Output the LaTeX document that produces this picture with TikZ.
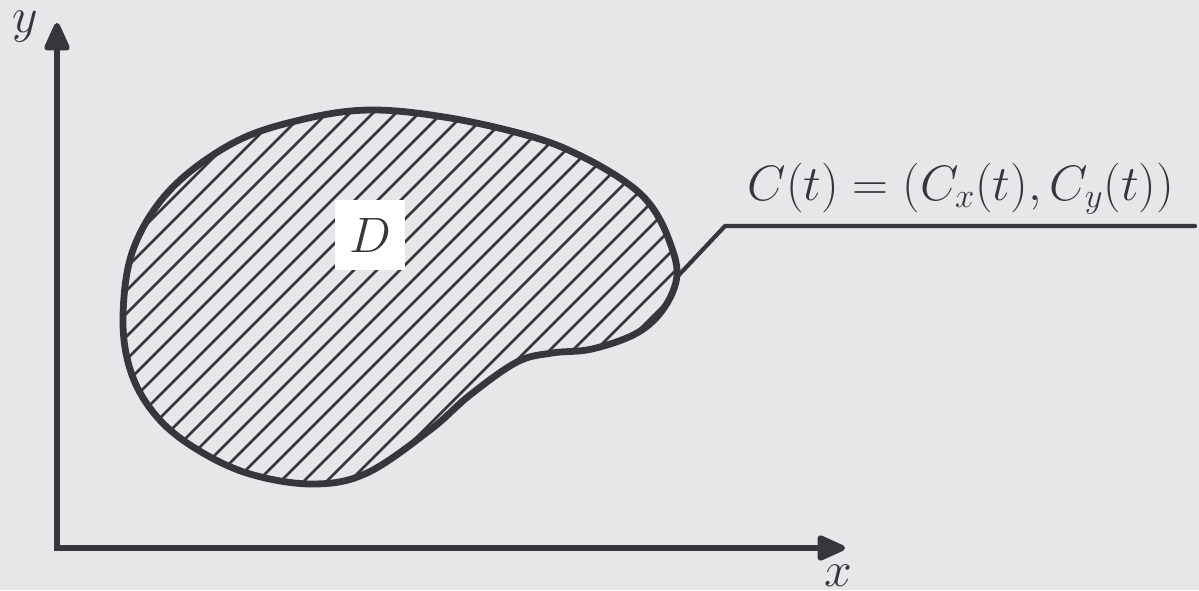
\documentclass[tikz,border=0pt]{standalone}
\usetikzlibrary{arrows.meta}
\definecolor{bg}{HTML}{E6E7E9}
\definecolor{ink}{HTML}{37373B}
\begin{document}
\begin{tikzpicture}[x=0.5pt,y=-0.5pt,
  axis/.style={draw=ink,line width=2.9pt,line join=miter,
    {Triangle[length=16pt,width=13.5pt,round]}-{Triangle[length=16pt,width=13.5pt,round]}},
  outline/.style={draw=ink,line width=3.4pt},
  hatch/.style={draw=ink,line width=1.3pt},
  leader/.style={draw=ink,line width=2.1pt,line cap=round,line join=round},
  lbl/.style={text=ink,font=\fontsize{25}{30}\selectfont,inner sep=0pt},
  dbox/.style={fill=white,minimum size=35pt,inner sep=0pt,text=ink,font=\fontsize{25}{30}\selectfont}]
\useasboundingbox[fill=bg] (0,0) rectangle (1199,590);
\def\blob{plot[smooth cycle,tension=0.6] coordinates {
 (370,110) (450,118) (533,137) (583,157) (627,183) (652,207) (669,240) (677,275)
 (664,308) (637,333) (592,349) (552,353) (517,362) (470,395) (430,430)
 (367,473) (313,484) (250,474) (198,450) (158,418) (132,375) (123,320)
 (133,250) (170,190) (233,143) (300,120)}}
\begin{scope}
  \clip \blob;
  \foreach \c in {302,325,...,1040}{
    \draw[hatch] (\c,0) -- ({\c-600},600);
  }
\end{scope}
\draw[outline] \blob;
\node[dbox] (D) at (370,235) {$D$};
\coordinate (O) at (57,548);
\coordinate (ytip) at (57,23);
\coordinate (xtip) at (845,548);
\draw[axis] (ytip) -- (O) -- (xtip);
\node[lbl,anchor=base] (ylab) at (25,32) {$y$};
\node[lbl,anchor=base] (xlab) at (838,586) {$x$};
\coordinate (c0) at (677,277);
\coordinate (c1) at (725,226);
\coordinate (c2) at (1195,226);
\draw[leader] (c0) -- (c1) -- (c2);
\node[lbl,anchor=base] (clab) at (961,200) {$C(t)=(C_x(t),C_y(t))$};
\end{tikzpicture}
\end{document}
